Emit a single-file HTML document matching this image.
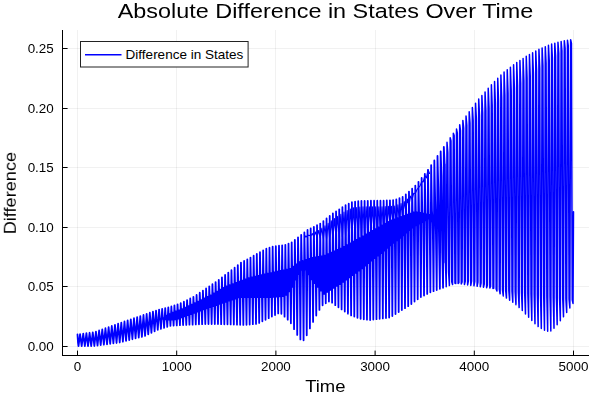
<!DOCTYPE html><html><head><meta charset="utf-8"><style>html,body{margin:0;padding:0;background:#fff;overflow:hidden;width:600px;height:400px}svg{display:block}</style></head><body><svg width="600" height="400" viewBox="0 0 600 400"><rect width="600" height="400" fill="#fff"/><g stroke="#000" stroke-opacity="0.055" stroke-width="1.0"><line x1="77.50" y1="30" x2="77.50" y2="355" /><line x1="176.50" y1="30" x2="176.50" y2="355" /><line x1="275.50" y1="30" x2="275.50" y2="355" /><line x1="375.50" y1="30" x2="375.50" y2="355" /><line x1="474.50" y1="30" x2="474.50" y2="355" /><line x1="573.50" y1="30" x2="573.50" y2="355" /><line x1="62" y1="346.50" x2="589" y2="346.50" /><line x1="62" y1="286.50" x2="589" y2="286.50" /><line x1="62" y1="227.50" x2="589" y2="227.50" /><line x1="62" y1="167.50" x2="589" y2="167.50" /><line x1="62" y1="108.50" x2="589" y2="108.50" /><line x1="62" y1="48.50" x2="589" y2="48.50" /></g><path d="M77.50,334.50 L77.97,342.29 L78.50,346.19 L80.08,334.13 L80.61,338.14 L81.14,342.15 L81.67,346.15 L83.25,333.68 L83.78,337.82 L84.31,341.97 L84.84,346.12 L86.42,333.23 L86.95,337.51 L87.48,341.79 L88.01,346.08 L89.59,332.77 L90.12,337.20 L90.65,341.62 L91.18,346.04 L92.77,332.32 L93.29,336.88 L93.82,341.44 L94.35,346.01 L95.94,331.66 L96.46,336.32 L96.99,340.99 L97.52,345.65 L99.11,330.52 L99.63,335.42 L100.16,340.31 L100.69,345.20 L102.28,329.38 L102.80,334.51 L103.33,339.63 L103.86,344.76 L105.45,328.24 L105.97,333.60 L106.50,338.96 L107.03,344.32 L108.62,327.10 L109.14,332.69 L109.67,338.28 L110.20,343.87 L111.79,325.96 L112.31,331.78 L112.84,337.60 L113.37,343.43 L114.96,324.82 L115.48,330.87 L116.01,336.93 L116.54,342.98 L118.13,323.68 L118.65,329.96 L119.18,336.25 L119.71,342.54 L121.30,322.56 L121.82,328.96 L122.35,335.35 L122.88,341.75 L124.47,321.48 L124.99,327.96 L125.52,334.45 L126.05,340.93 L127.64,320.40 L128.16,326.97 L128.69,333.54 L129.22,340.10 L130.81,319.33 L131.33,325.98 L131.86,332.63 L132.39,339.28 L133.98,318.25 L134.50,324.98 L135.03,331.72 L135.56,338.45 L137.15,317.17 L137.67,323.99 L138.20,330.81 L138.73,337.63 L140.31,316.09 L140.84,323.00 L141.37,329.90 L141.90,336.81 L143.48,315.02 L144.01,322.00 L144.54,328.98 L145.07,335.97 L146.65,313.90 L147.18,320.75 L147.71,327.60 L148.24,334.44 L149.82,312.76 L150.35,319.48 L150.88,326.20 L151.41,332.92 L152.95,311.64 L153.49,318.51 L154.04,324.55 L154.58,331.40 L156.02,310.53 L156.60,318.17 L157.17,322.43 L157.75,329.92 L159.09,309.62 L159.70,318.36 L160.31,320.33 L160.92,328.91 L162.16,308.88 L162.80,318.90 L163.45,317.92 L164.09,327.89 L165.23,308.15 L165.91,319.45 L166.58,315.71 L167.26,326.88 L168.30,307.41 L169.01,319.53 L169.72,314.10 L170.43,325.97 L171.37,306.51 L172.11,319.53 L172.86,312.68 L173.60,325.71 L174.44,305.40 L175.21,319.39 L175.99,311.29 L176.77,325.46 L177.56,304.28 L178.35,318.63 L179.15,310.50 L179.94,325.20 L180.73,303.14 L181.52,317.45 L182.32,309.27 L183.11,324.98 L183.90,301.77 L184.69,316.29 L185.49,307.73 L186.28,324.85 L187.07,300.12 L187.86,315.14 L188.66,306.19 L189.45,324.72 L190.24,298.47 L191.03,313.99 L191.83,304.65 L192.62,324.60 L193.41,296.83 L194.20,312.83 L195.00,303.11 L195.79,324.47 L196.58,294.92 L197.37,311.68 L198.17,301.57 L198.96,324.34 L199.75,292.77 L200.54,310.53 L201.34,300.03 L202.13,324.21 L202.92,290.61 L203.71,309.41 L204.51,298.48 L205.30,324.09 L206.09,288.46 L206.88,308.31 L207.68,296.94 L208.47,324.00 L209.26,286.31 L210.05,307.21 L210.85,295.32 L211.64,324.00 L212.43,284.17 L213.22,306.11 L214.02,293.45 L214.81,324.00 L215.60,282.04 L216.39,305.02 L217.19,291.59 L217.98,324.02 L218.77,279.84 L219.56,303.92 L220.36,289.73 L221.15,324.12 L221.94,277.38 L222.73,302.82 L223.53,287.87 L224.32,324.23 L225.11,274.92 L225.90,301.73 L226.70,286.38 L227.49,324.33 L228.28,272.54 L229.07,300.64 L229.87,285.21 L230.66,324.44 L231.45,270.16 L232.24,299.59 L233.04,284.05 L233.83,324.55 L234.62,267.74 L235.41,298.53 L236.21,282.88 L237.00,324.68 L237.79,265.13 L238.58,297.47 L239.38,281.72 L240.17,324.81 L240.96,262.59 L241.75,297.00 L242.55,280.55 L243.34,324.93 L244.13,260.97 L244.92,297.00 L245.72,279.39 L246.51,324.85 L247.30,259.35 L248.09,297.00 L248.89,278.22 L249.68,324.53 L250.47,257.54 L251.26,297.00 L252.06,277.35 L252.85,324.22 L253.64,255.72 L254.43,297.00 L255.23,276.63 L256.02,323.90 L256.81,253.98 L257.60,297.00 L258.40,275.91 L259.19,322.91 L259.98,252.23 L260.77,297.00 L261.57,275.19 L262.36,321.32 L263.15,250.47 L263.94,297.00 L264.74,274.48 L265.53,319.74 L266.32,248.73 L267.11,297.00 L267.91,273.76 L268.70,318.15 L269.49,247.67 L270.28,296.98 L271.08,273.04 L271.87,316.57 L272.66,246.61 L273.45,296.73 L274.25,272.35 L275.04,314.98 L275.83,246.15 L276.62,296.49 L277.42,271.68 L278.21,313.40 L279.00,245.75 L279.79,296.25 L280.59,271.00 L281.38,313.78 L282.17,245.35 L282.96,296.00 L283.76,270.33 L284.55,316.71 L285.34,244.86 L286.13,294.85 L286.93,269.65 L287.72,319.64 L288.51,243.60 L289.30,291.39 L290.10,268.93 L290.89,323.31 L291.68,242.33 L292.47,286.73 L293.27,266.71 L294.06,329.12 L294.85,239.82 L295.64,279.71 L296.44,264.49 L297.23,334.96 L298.02,237.29 L298.81,274.03 L299.61,262.27 L300.40,339.47 L301.19,234.85 L301.98,269.76 L302.78,261.07 L303.57,340.23 L304.36,232.41 L305.15,269.50 L305.95,260.02 L306.74,335.27 L307.53,229.98 L308.32,274.36 L309.12,258.96 L309.91,328.45 L310.70,228.40 L311.49,279.23 L312.29,257.95 L313.08,321.92 L313.87,226.81 L314.66,283.11 L315.46,257.42 L316.25,315.48 L317.04,225.23 L317.83,286.81 L318.63,256.90 L319.42,309.95 L320.21,223.58 L321.00,290.51 L321.80,256.37 L322.59,305.30 L323.38,221.04 L324.17,293.89 L324.97,255.57 L325.76,303.33 L326.55,218.51 L327.34,291.91 L328.14,254.16 L328.93,301.59 L329.72,215.97 L330.51,289.93 L331.31,252.75 L332.10,302.68 L332.89,213.49 L333.68,287.95 L334.48,251.34 L335.27,305.18 L336.06,211.40 L336.85,285.97 L337.65,249.93 L338.44,307.29 L339.23,209.31 L340.02,283.98 L340.82,248.53 L341.61,309.41 L342.40,207.21 L343.19,281.76 L343.99,246.90 L344.78,311.52 L345.57,205.23 L346.36,279.54 L347.16,245.13 L347.95,313.63 L348.74,203.75 L349.53,277.33 L350.33,243.37 L351.12,315.42 L351.91,202.27 L352.70,275.11 L353.50,241.61 L354.29,316.61 L355.08,201.66 L355.88,272.89 L356.67,239.85 L357.46,317.80 L358.25,201.23 L359.05,270.67 L359.84,238.09 L360.63,318.83 L361.42,200.96 L362.22,268.23 L363.01,236.30 L363.80,319.23 L364.59,200.89 L365.39,265.69 L366.18,234.50 L366.97,319.62 L367.76,200.81 L368.56,263.16 L369.35,232.70 L370.14,319.98 L370.93,200.75 L371.73,260.62 L372.52,230.91 L373.31,319.59 L374.10,200.75 L374.90,258.08 L375.69,229.11 L376.48,319.19 L377.27,200.75 L378.07,255.55 L378.86,227.31 L379.65,318.79 L380.44,200.75 L381.24,253.01 L382.03,225.52 L382.82,318.40 L383.61,200.68 L384.41,250.48 L385.20,223.72 L385.99,318.00 L386.78,200.49 L387.58,247.94 L388.37,221.93 L389.16,317.60 L389.95,200.30 L390.75,245.40 L391.54,220.45 L392.33,316.04 L393.12,200.11 L393.92,242.87 L394.71,219.31 L395.50,314.06 L396.29,199.48 L397.09,240.33 L397.88,218.16 L398.67,312.08 L399.46,198.21 L400.26,237.80 L401.05,217.02 L401.84,310.10 L402.63,196.89 L403.43,235.26 L404.22,215.88 L405.01,308.12 L405.80,194.36 L406.60,232.72 L407.39,214.74 L408.18,306.14 L408.97,191.63 L409.77,230.19 L410.56,213.60 L411.35,303.99 L412.14,188.67 L412.94,227.65 L413.73,212.46 L414.52,301.61 L415.31,185.62 L416.11,225.41 L416.90,212.38 L417.69,299.23 L418.48,181.82 L419.28,223.72 L420.07,213.01 L420.86,297.07 L421.65,177.91 L422.45,222.03 L423.24,213.65 L424.03,295.48 L424.82,173.89 L425.62,220.34 L426.41,214.28 L427.20,293.90 L427.99,169.78 L428.79,218.65 L429.58,214.92 L430.37,292.36 L431.16,165.13 L431.96,210.82 L432.75,223.46 L433.54,291.17 L434.33,160.48 L435.13,199.18 L435.92,233.22 L436.71,289.98 L437.50,155.91 L438.30,187.54 L439.09,242.99 L439.88,288.79 L440.67,151.37 L441.47,175.90 L442.26,252.75 L443.05,287.73 L443.84,146.84 L444.64,164.26 L445.43,262.51" fill="none" stroke="#0000ff" stroke-width="1.8" stroke-linejoin="round" stroke-linecap="round"/><path d="M444.64,164.26 L445.43,262.51 L446.22,286.68 L447.01,142.32 L447.81,152.62 L448.60,272.27 L449.39,285.62 L450.18,137.80 L450.98,140.98 L451.77,282.03 L452.56,284.56 L453.35,133.34 L454.15,135.53 L454.94,283.17 L455.73,283.57 L456.52,129.03 L457.32,133.03 L458.11,283.61 L458.90,282.77 L459.69,124.72 L460.49,130.54 L461.28,284.06 L462.07,281.98 L462.86,120.41 L463.66,128.05 L464.45,284.51 L465.24,281.23 L466.03,116.10 L466.83,125.56 L467.62,284.96 L468.41,280.91 L469.20,111.78 L470.00,123.07 L470.79,285.41 L471.58,281.01 L472.37,107.47 L473.17,120.57 L473.96,285.85 L474.75,281.54 L475.54,103.16 L476.34,118.08 L477.13,286.30 L477.92,282.13 L478.71,99.12 L479.51,115.59 L480.30,286.75 L481.09,283.08 L481.88,95.50 L482.68,113.10 L483.47,287.20 L484.26,284.03 L485.05,91.89 L485.85,110.60 L486.64,287.65 L487.43,285.14 L488.22,88.28 L489.02,108.11 L489.81,288.10 L490.60,286.30 L491.39,84.80 L492.19,105.62 L492.98,288.54 L493.77,288.14 L494.56,81.50 L495.36,103.13 L496.15,288.99 L496.94,291.00 L497.73,78.21 L498.53,100.64 L499.32,289.44 L500.11,293.82 L500.90,74.91 L501.70,98.14 L502.49,289.89 L503.28,295.94 L504.07,72.05 L504.87,95.65 L505.66,290.34 L506.45,298.05 L507.24,69.65 L508.04,93.16 L508.83,290.79 L509.62,300.16 L510.41,67.24 L511.21,90.67 L512.00,291.23 L512.79,302.28 L513.58,64.83 L514.38,88.18 L515.17,291.68 L515.96,304.65 L516.75,62.59 L517.55,85.68 L518.34,292.13 L519.13,307.60 L519.92,60.50 L520.72,83.19 L521.51,292.58 L522.30,310.56 L523.09,58.41 L523.89,80.70 L524.68,293.03 L525.47,313.92 L526.26,56.32 L527.06,78.21 L527.85,293.47 L528.64,317.30 L529.43,54.46 L530.23,75.71 L531.02,293.92 L531.81,320.56 L532.60,52.74 L533.40,73.22 L534.19,294.37 L534.98,323.73 L535.77,51.03 L536.57,70.73 L537.36,294.82 L538.15,326.62 L538.94,49.32 L539.74,68.24 L540.53,295.27 L541.32,328.41 L542.11,47.90 L542.91,65.75 L543.70,295.72 L544.49,330.21 L545.28,46.64 L546.08,63.25 L546.87,296.16 L547.66,331.17 L548.45,45.37 L549.25,60.76 L550.04,296.61 L550.83,331.04 L551.62,44.10 L552.42,58.27 L553.21,297.06 L554.00,328.35 L554.79,43.15 L555.59,55.78 L556.38,297.51 L557.17,324.79 L557.96,42.33 L558.76,53.29 L559.55,297.96 L560.34,320.82 L561.13,41.51 L561.93,50.79 L562.72,298.40 L563.51,316.86 L564.30,40.68 L565.10,48.30 L565.89,298.85 L566.68,312.57 L567.47,40.17 L568.27,45.81 L569.06,299.30 L569.85,307.99 L570.64,39.75 L571.44,43.32 L572.23,299.75 L573.02,303.42 L573.50,211.79" fill="none" stroke="#0000ff" stroke-width="1.5" stroke-linejoin="round" stroke-linecap="round"/><path d="M304.36,234.72 L305.95,237.19 L307.53,235.37 L309.12,235.19 L310.70,236.02 L312.29,233.61 L313.87,236.68 L315.46,232.02 L317.04,237.33 L318.63,230.44 L320.21,237.98 L321.80,228.31 L323.38,238.64 L324.97,225.78 L326.55,239.29 L328.14,223.24 L329.72,239.94 L331.31,220.70 L332.89,239.23 L334.48,218.44 L336.06,238.38 L337.65,216.35 L339.23,237.54 L340.82,214.26 L342.40,236.69 L343.99,212.17 L345.57,236.00 L347.16,210.49 L348.74,236.00 L350.33,209.01 L351.91,236.00 L353.50,207.87 L355.08,236.00 L356.67,207.44 L358.25,236.00 L359.84,207.02 L361.42,235.72 L363.01,206.92 L364.59,235.08 L366.18,206.85 L367.76,234.45 L369.35,206.77 L370.93,233.81 L372.52,206.75 L374.10,233.18 L375.69,206.75 L377.27,232.55 L378.86,206.75 L380.44,231.78 L382.03,206.75 L383.61,230.19 L385.20,206.59 L386.78,228.61 L388.37,206.40 L389.95,227.02 L391.54,206.21 L393.12,225.44 L394.71,206.02 L396.29,223.85 L397.88,204.85 L399.46,222.27 L401.05,203.58 L402.63,217.09 L404.22,201.63 L405.80,211.18 L407.39,199.09 L408.97,205.26 L410.56,196.15 L412.14,199.35 L413.73,193.19 L415.31,193.43 L416.90,189.72 L418.48,187.52 L420.07,185.91 L421.65,181.61 L423.24,181.90 L424.82,175.69 L426.41,177.88 L427.99,169.78 L429.58,173.45" fill="none" stroke="#0000ff" stroke-width="1.1" stroke-linejoin="round" stroke-linecap="round"/><g stroke="#000" stroke-width="1.0"><line x1="62.5" y1="30" x2="62.5" y2="356" /><line x1="62" y1="355.5" x2="589" y2="355.5" /><line x1="77.50" y1="355" x2="77.50" y2="350.6" /><line x1="176.70" y1="355" x2="176.70" y2="350.6" /><line x1="275.90" y1="355" x2="275.90" y2="350.6" /><line x1="375.10" y1="355" x2="375.10" y2="350.6" /><line x1="474.30" y1="355" x2="474.30" y2="350.6" /><line x1="573.50" y1="355" x2="573.50" y2="350.6" /><line x1="62" y1="346.50" x2="67.6" y2="346.50" /><line x1="62" y1="286.50" x2="67.6" y2="286.50" /><line x1="62" y1="227.50" x2="67.6" y2="227.50" /><line x1="62" y1="167.50" x2="67.6" y2="167.50" /><line x1="62" y1="108.50" x2="67.6" y2="108.50" /><line x1="62" y1="48.50" x2="67.6" y2="48.50" /></g><g font-family="'Liberation Sans', sans-serif" opacity="0.999"><text transform="translate(77.50,371.20) scale(1.1200,1)" font-size="12.0" text-anchor="middle" fill="#000">0</text><text transform="translate(176.70,371.20) scale(1.1200,1)" font-size="12.0" text-anchor="middle" fill="#000">1000</text><text transform="translate(275.90,371.20) scale(1.1200,1)" font-size="12.0" text-anchor="middle" fill="#000">2000</text><text transform="translate(375.10,371.20) scale(1.1200,1)" font-size="12.0" text-anchor="middle" fill="#000">3000</text><text transform="translate(474.30,371.20) scale(1.1200,1)" font-size="12.0" text-anchor="middle" fill="#000">4000</text><text transform="translate(573.50,371.20) scale(1.1200,1)" font-size="12.0" text-anchor="middle" fill="#000">5000</text><text transform="translate(53.80,350.80) scale(1.1200,1)" font-size="12.0" text-anchor="end" fill="#000">0.00</text><text transform="translate(53.80,291.24) scale(1.1200,1)" font-size="12.0" text-anchor="end" fill="#000">0.05</text><text transform="translate(53.80,231.68) scale(1.1200,1)" font-size="12.0" text-anchor="end" fill="#000">0.10</text><text transform="translate(53.80,172.12) scale(1.1200,1)" font-size="12.0" text-anchor="end" fill="#000">0.15</text><text transform="translate(53.80,112.56) scale(1.1200,1)" font-size="12.0" text-anchor="end" fill="#000">0.20</text><text transform="translate(53.80,53.00) scale(1.1200,1)" font-size="12.0" text-anchor="end" fill="#000">0.25</text></g><g font-family="'Liberation Sans', sans-serif" opacity="0.999"><text transform="translate(325.50,17.80) scale(1.1200,1)" font-size="20.9" text-anchor="middle" fill="#000">Absolute Difference in States Over Time</text><text transform="translate(325.30,391.90) scale(1.1000,1)" font-size="16.8" text-anchor="middle" fill="#000">Time</text><text transform="translate(15.80,193.10) rotate(-90) scale(1.1000,1)" font-size="16.5" text-anchor="middle" fill="#000">Difference</text></g><rect x="80.5" y="41.5" width="167.6" height="25.5" fill="#fff" stroke="#222" stroke-width="1.0" /><line x1="85" y1="54.7" x2="121.5" y2="54.7" stroke="#0000ff" stroke-width="1.5" /><g font-family="'Liberation Sans', sans-serif" opacity="0.999"><text transform="translate(125.60,59.00) scale(1.1000,1)" font-size="12.3" text-anchor="start" fill="#000">Difference in States</text></g></svg></body></html>
